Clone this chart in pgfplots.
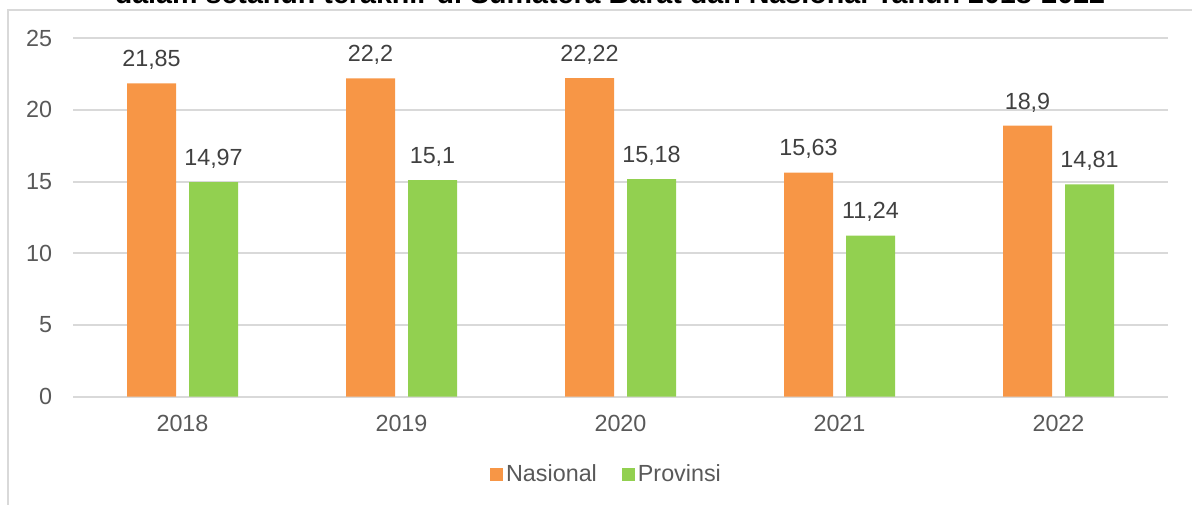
\documentclass[border=0pt]{standalone}
\usepackage{pgfplots}
\pgfplotsset{compat=1.18}
\usepackage{fontspec}
\setmainfont{Liberation Sans}
\definecolor{orng}{HTML}{F79646}
\definecolor{grn}{HTML}{92D050}
\definecolor{gridc}{HTML}{D9D9D9}
\definecolor{txt}{HTML}{595959}
\definecolor{lbl}{HTML}{404040}
\begin{document}
\begin{tikzpicture}
\fontsize{17.5pt}{21pt}\selectfont
\begin{axis}[
  at={(54.75pt,-297.5pt)}, anchor=south west,
  scale only axis, width=821.25pt, height=268.8pt,
  xmin=-0.5, xmax=4.5, ymin=0, ymax=25,
  xtick={0,1,2,3,4}, xticklabels={2018,2019,2020,2021,2022},
  ytick={0,5,10,15,20,25},
  major tick length=0pt,
  axis line style={draw=none},
  ymajorgrids, grid style={gridc, line width=1.3pt},
  ybar, bar width=36.75pt,
  /pgf/number format/assume math mode=true,
  /pgf/number format/use comma,
  tick label style={font=\fontsize{17.5pt}{21pt}\selectfont, text=txt},
  yticklabel style={anchor=east, inner sep=0pt, xshift=-15.5pt},
  xticklabel style={anchor=base, inner sep=0pt, yshift=-26pt},
  nodes near coords,
  every node near coord/.append style={font=\fontsize{17.5pt}{21pt}\selectfont, text=lbl, anchor=base, inner sep=0pt, yshift=12.5pt},
  legend columns=2,
  legend style={at={(0.4877,-0.2185)}, anchor=center, draw=none, fill=none,
    font=\fontsize{17.5pt}{21pt}\selectfont, text=txt,
    /tikz/every even column/.append style={column sep=17pt},
    nodes={inner sep=2pt}},
  legend image code/.code={\fill[#1] (0pt,-4.875pt) rectangle (9.75pt,4.875pt);},
]
\addplot[fill=orng, draw=none, bar shift=-23.25pt] coordinates {(0,21.85) (1,22.2) (2,22.22) (3,15.63) (4,18.9)};
\addplot[fill=grn, draw=none, bar shift=23.25pt] coordinates {(0,14.97) (1,15.1) (2,15.18) (3,11.24) (4,14.81)};
\legend{Nasional, Provinsi}
\end{axis}
\draw[gridc, line width=1.2pt] (6pt,-7.5pt) rectangle (920pt,-400pt);
\node[anchor=base, inner sep=0pt, font=\bfseries\fontsize{21.5pt}{25pt}\selectfont] at (457.5pt,-2.6pt) {dalam setahun terakhir di Sumatera Barat dan Nasional Tahun 2018-2022};
\pgfresetboundingbox
\useasboundingbox (0pt,0pt) rectangle (894pt,-378pt);
\end{tikzpicture}
\end{document}
